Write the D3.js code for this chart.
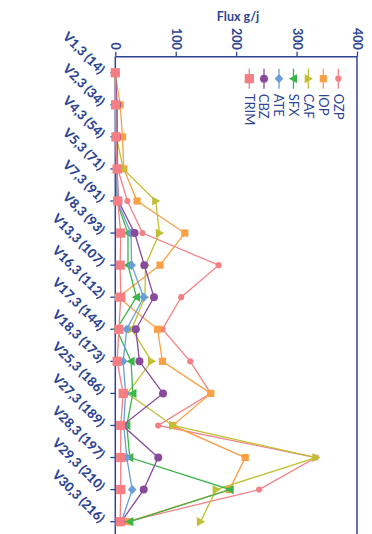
<!DOCTYPE html>
<html><head><meta charset="utf-8">
<script src="https://cdn.jsdelivr.net/npm/d3@7"></script>
<style>
html,body{margin:0;padding:0;background:#fff;}
svg{display:block;}
text{font-family:Lato,"Open Sans",sans-serif;}
</style></head>
<body>
<svg id="chart" width="372" height="534"></svg>
<script>
const categories = ["V1,3 (14)","V2,3 (34)","V4,3 (54)","V5,3 (71)","V7,3 (91)","V8,3 (93)","V13,3 (107)","V16,3 (112)","V17,3 (144)","V18,3 (173)","V25,3 (186)","V27,3 (189)","V28,3 (197)","V29,3 (210)","V30,3 (216)"];
const OZP  = [0, 2, 3, 4, 20, 45, 171, 109, 78, 124, 158, 71, 332, 238, 19];
const IOP  = [0, 8, 12, 14, 36, 115, 74, 5, 70, 78, 158, 95, 215, 189, 22];
const CAF  = [0, 1, 2, 13, 67, 73, 50, 49, 27, 60, 20, 95, 332, 167, 141];
const SFX  = [0, 1, 1, 2, 2, 21, 21, 35, 2, 26, 29, 19, 24, 190, 24];
const ATE  = [0, 1, 1, 2, 3, 26, 27, 47, 19, 13, 17, 14, 19, 28, 10];
const CBZ  = [0, 3, 3, 3, 5, 32, 48, 64, 34, 40, 79, 12, 71, 47, 10];
const TRIM = [0, 0.5, 1, 3, 4, 9, 8, 9, 6, 3, 13, 9, 9, 9, 8];
const seriesNames = ["OZP","IOP","CAF","SFX","ATE","CBZ","TRIM"];
const seriesValues = [OZP, IOP, CAF, SFX, ATE, CBZ, TRIM];
const valueTicks = [0, 100, 200, 300, 400];
const axisTitle = "Flux g/j";

const colors = {OZP:"#F28286", IOP:"#F8A044", CAF:"#BFC034", SFX:"#3BB44A", ATE:"#6A9ED6", CBZ:"#8A4A9C", TRIM:"#F47E84"};
const shapes = {OZP:"circleS", IOP:"square", CAF:"triR", SFX:"triL", ATE:"diamond", CBZ:"circle", TRIM:"squareL"};
const axisColor = "#2E4593";

const svg = d3.select("#chart");
const x = d3.scaleLinear().domain([0, 400]).range([115.3, 357]);
const y = d3.scaleBand().domain(categories).range([56.7, 537.7]);
const cy = c => y(c) + y.bandwidth()/2;

function markerPath(shape){
  switch(shape){
    case "circleS": return d3.symbol(d3.symbolCircle, 30)();
    case "circle": return d3.symbol(d3.symbolCircle, 50)();
    case "square": return "M-3.6,-3.6H3.6V3.6H-3.6Z";
    case "squareL": return "M-4.6,-4.6H4.6V4.6H-4.6Z";
    case "diamond": return "M0,-4.6L4.3,0L0,4.6L-4.3,0Z";
    case "triR": return "M4.6,0L-3.6,-4.6L-3.6,4.6Z";
    case "triL": return "M-4.6,0L3.6,-4.6L3.6,4.6Z";
  }
}

// frame
svg.append("line").attr("x1",x(0)).attr("x2",x(400)).attr("y1",56.7).attr("y2",56.7).attr("stroke",axisColor).attr("stroke-width",1.5);
svg.append("line").attr("x1",x(0)).attr("x2",x(0)).attr("y1",56.7).attr("y2",540).attr("stroke",axisColor).attr("stroke-width",1.5);
svg.append("line").attr("x1",x(400)).attr("x2",x(400)).attr("y1",56.7).attr("y2",540).attr("stroke",axisColor).attr("stroke-width",1.5);

// value axis (top)
const topAx = svg.append("g").attr("transform","translate(0,56.7)")
  .call(d3.axisTop(x).tickValues(valueTicks).tickSize(5).tickSizeOuter(0).tickFormat(d3.format("d")));
topAx.select(".domain").remove();
topAx.selectAll("line").attr("stroke",axisColor).attr("stroke-width",1.3);
topAx.selectAll("text").attr("fill",axisColor).attr("font-weight","bold").attr("font-size",12.5)
  .attr("transform","translate(0,-7) rotate(90)").attr("text-anchor","end").attr("x",0).attr("y",0).attr("dy","0.35em");

svg.append("text").attr("x",238).attr("y",21).attr("text-anchor","middle")
  .attr("fill",axisColor).attr("font-weight","bold").attr("font-size",12.5).text(axisTitle);

// category axis (left)
const leftAx = svg.append("g").attr("transform",`translate(${x(0)},0)`)
  .call(d3.axisLeft(y).tickSize(5).tickSizeOuter(0));
leftAx.select(".domain").remove();
leftAx.selectAll("line").attr("stroke",axisColor).attr("stroke-width",1.3);
leftAx.selectAll("text").attr("fill",axisColor).attr("font-weight","900").attr("font-size",13)
  .attr("x",0).attr("dy",0).attr("text-anchor","end")
  .attr("transform","translate(-16,2) rotate(45)");

// series
const line = d3.line().x(d => x(d.v)).y(d => cy(d.c));
seriesNames.forEach((name, i) => {
  const data = categories.map((c, j) => ({c, v: seriesValues[i][j]}));
  const g = svg.append("g");
  g.append("path").datum(data).attr("d", line).attr("fill","none")
    .attr("stroke", colors[name]).attr("stroke-width", 1.3);
  g.selectAll("path.m").data(data).join("path").attr("class","m")
    .attr("d", markerPath(shapes[name]))
    .attr("transform", d => `translate(${x(d.v)},${cy(d.c)})`)
    .attr("fill", colors[name]);
});

// legend
const legendX = {TRIM:249.3, CBZ:264, ATE:279, SFX:293.5, CAF:308.3, IOP:323.3, OZP:338.3};
seriesNames.forEach(name => {
  const lx = legendX[name], ly = 78.7;
  const g = svg.append("g").attr("transform",`translate(${lx},${ly})`);
  g.append("line").attr("x1",0).attr("x2",0).attr("y1",-10).attr("y2",10)
    .attr("stroke",colors[name]).attr("stroke-width",1.3);
  g.append("path").attr("d", markerPath(shapes[name])).attr("fill",colors[name]);
  g.append("text").attr("transform","translate(0,15) rotate(90)")
    .attr("dy","0.35em").attr("fill",axisColor).attr("font-size",13).text(name);
});
</script>
</body></html>
